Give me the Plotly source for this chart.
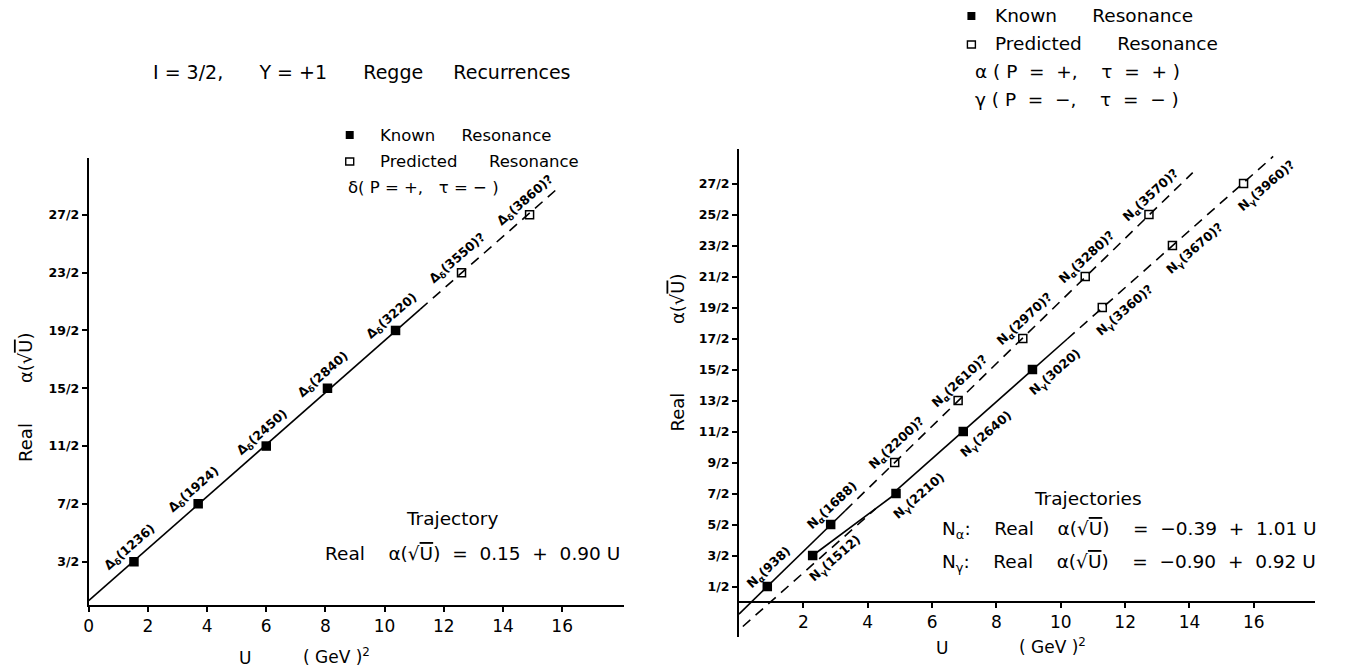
import plotly.graph_objects as go

W, H = 1348, 668
FONT = "DejaVu Sans"

# ---- I = 3/2, Y = +1 trajectory (Delta_delta) ----
delta_mass = ["1236", "1924", "2450", "2840", "3220", "3550", "3860"]
delta_u = [1.53, 3.70, 6.00, 8.07, 10.37, 12.60, 14.90]
delta_j = [1.5, 3.5, 5.5, 7.5, 9.5, 11.5, 13.5]
delta_known = [True, True, True, True, True, False, False]
delta_fit = (0.15, 0.90)

# ---- Nucleon trajectories: N_alpha and N_gamma ----
na_mass = ["938", "1688", "2200", "2610", "2970", "3280", "3570"]
na_u = [0.88, 2.85, 4.84, 6.81, 8.82, 10.76, 12.74]
na_j = [0.5, 2.5, 4.5, 6.5, 8.5, 10.5, 12.5]
na_known = [True, True, False, False, False, False, False]
na_fit = (-0.39, 1.01)

ng_mass = ["1512", "2210", "2640", "3020", "3360", "3670", "3960"]
ng_u = [2.29, 4.88, 6.97, 9.12, 11.29, 13.47, 15.68]
ng_j = [1.5, 3.5, 5.5, 7.5, 9.5, 11.5, 13.5]
ng_known = [True, True, True, True, False, False, False]
ng_fit = (-0.90, 0.92)

# ---- axis ticks ----
left_xticks = [0, 2, 4, 6, 8, 10, 12, 14, 16]
left_yticks = [1.5, 3.5, 5.5, 7.5, 9.5, 11.5, 13.5]
left_ylabels = ["3/2", "7/2", "11/2", "15/2", "19/2", "23/2", "27/2"]
right_xticks = [2, 4, 6, 8, 10, 12, 14, 16]
right_yticks = [0.5, 1.5, 2.5, 3.5, 4.5, 5.5, 6.5, 7.5, 8.5, 9.5, 10.5, 11.5, 12.5, 13.5]
right_ylabels = ["1/2", "3/2", "5/2", "7/2", "9/2", "11/2", "13/2", "15/2",
                 "17/2", "19/2", "21/2", "23/2", "25/2", "27/2"]

fig = go.Figure()

SOLID = dict(color="black", width=1.6)
DASHED = dict(color="black", width=1.6, dash="10px,7px")


def fit_segment(fit, u0, u1, xa, ya, line):
    a, b = fit
    fig.add_trace(go.Scatter(x=[u0, u1], y=[a + b * u0, a + b * u1], mode="lines",
                             line=line, xaxis=xa, yaxis=ya, showlegend=False,
                             hoverinfo="skip"))


def resonances(u, j, known, xa, ya):
    ku = [x for x, k in zip(u, known) if k]
    kj = [y for y, k in zip(j, known) if k]
    pu = [x for x, k in zip(u, known) if not k]
    pj = [y for y, k in zip(j, known) if not k]
    fig.add_trace(go.Scatter(x=ku, y=kj, mode="markers", xaxis=xa, yaxis=ya,
                             marker=dict(symbol="square", size=9.5, color="black"),
                             showlegend=False))
    fig.add_trace(go.Scatter(x=pu, y=pj, mode="markers", xaxis=xa, yaxis=ya,
                             marker=dict(symbol="square-open", size=8, color="black",
                                         line=dict(width=1.5, color="black")),
                             showlegend=False))


# left panel lines
fit_segment(delta_fit, 0.0, 11.2, "x", "y", SOLID)
fit_segment(delta_fit, 11.2, 15.9, "x", "y", DASHED)
resonances(delta_u, delta_j, delta_known, "x", "y")

# right panel lines
fit_segment(na_fit, 0.0, 3.3, "x2", "y2", SOLID)
fit_segment(na_fit, 3.3, 14.1, "x2", "y2", DASHED)
fit_segment(ng_fit, 0.12, 4.25, "x2", "y2", DASHED)
fig.add_trace(go.Scatter(x=[ng_u[0], ng_u[1]], y=[ng_j[0], ng_j[1]], mode="lines",
                         line=SOLID, xaxis="x2", yaxis="y2", showlegend=False,
                         hoverinfo="skip"))
fit_segment(ng_fit, ng_u[1], 10.2, "x2", "y2", SOLID)
fit_segment(ng_fit, 10.2, 16.6, "x2", "y2", DASHED)
resonances(na_u, na_j, na_known, "x2", "y2")
resonances(ng_u, ng_j, ng_known, "x2", "y2")

annotations = []


def point_labels(u, j, known, masses, name, xa, ya, dx, dy, angle):
    for x, y, k, m in zip(u, j, known, masses):
        annotations.append(dict(
            x=x, y=y, xref=xa, yref=ya, showarrow=False,
            text=f"{name}({m}){'' if k else '?'}", textangle=angle,
            xshift=dx, yshift=dy,
            font=dict(family=FONT, size=12.5, color="black", weight="bold")))


point_labels(delta_u, delta_j, delta_known, delta_mass, "Δ<sub>δ</sub>", "x", "y", -4, 14, -41)
point_labels(na_u, na_j, na_known, na_mass, "N<sub>α</sub>", "x2", "y2", 2, 19, -43)
point_labels(ng_u, ng_j, ng_known, ng_mass, "N<sub>γ</sub>", "x2", "y2", 23, -3, -41)


def txt(x, y, text, size=17, xanchor="left", angle=0, weight="normal"):
    annotations.append(dict(
        x=x / W, y=1 - y / H, xref="paper", yref="paper", showarrow=False,
        text=text, xanchor=xanchor, yanchor="middle", textangle=angle,
        font=dict(family=FONT, size=size, color="black", weight=weight)))


SQRTU = "α(√<span style='text-decoration:overline'>U</span>)"

# left panel texts
txt(358, 72, "I = 3/2,      Y = +1      Regge     Recurrences", 19, "center")
txt(374, 135, "Known     Resonance", 16.5)
txt(374, 161, "Predicted      Resonance", 16.5)
txt(342, 187, "δ( P = +,   τ = − )", 16.5)
txt(449, 518, "Trajectory", 18.5, "center")
txt(619, 553, f"Real    {SQRTU}  =  0.15  +  0.90 U", 18.5, "right")
txt(241, 658, "U", 17, "center")
txt(333, 656, "( GeV )<sup>2</sup>", 17, "center")
txt(20, 397, f"Real       {SQRTU}", 18, "center", -90)

# right panel texts
txt(992, 16, "Known      Resonance", 18.5)
txt(992, 44, "Predicted      Resonance", 18.5)
txt(972, 72, "α ( P  =  +,    τ  =  + )", 18.5)
txt(972, 100, "γ ( P  =  −,    τ  =  − )", 18.5)
txt(1087, 498, "Trajectories", 18.5, "center")
txt(938, 530, f"N<sub>α</sub>:    Real    {SQRTU}    =  −0.39  +  1.01 U", 18.5)
txt(938, 563, f"N<sub>γ</sub>:    Real    {SQRTU}    =  −0.90  +  0.92 U", 18.5)
txt(940, 648, "U", 17, "center")
txt(1051, 646, "( GeV )<sup>2</sup>", 17, "center")
txt(675, 352, f"Real            {SQRTU}", 18, "center", -90)

# legend squares
shapes = [
    dict(type="rect", xref="paper", yref="paper", x0=342 / W, x1=350 / W,
         y0=1 - 139 / H, y1=1 - 131 / H, fillcolor="black", line=dict(width=0)),
    dict(type="rect", xref="paper", yref="paper", x0=342 / W, x1=350 / W,
         y0=1 - 165 / H, y1=1 - 158 / H, fillcolor="white",
         line=dict(width=1.4, color="black")),
    dict(type="rect", xref="paper", yref="paper", x0=966 / W, x1=974 / W,
         y0=1 - 20 / H, y1=1 - 12 / H, fillcolor="black", line=dict(width=0)),
    dict(type="rect", xref="paper", yref="paper", x0=966 / W, x1=974 / W,
         y0=1 - 48 / H, y1=1 - 41 / H, fillcolor="white",
         line=dict(width=1.4, color="black")),
]

AX = dict(showline=True, linewidth=2, linecolor="black", showgrid=False, zeroline=False,
          ticks="outside", tickcolor="black", tickwidth=1.5, fixedrange=True)

# pixel geometry of the two frames
LX0, LXS, LXMAX = 84, 29.7, 18.1
LY0, LYS, LYMAX = 605, 28.9, 15.47
RX0, RXS, RXMAX = 736.7, 32.3, 17.9
RY0, RYS, RYMIN, RYMAX = 602, 31.0, -1.13, 14.6

fig.update_layout(
    width=W, height=H, margin=dict(l=0, r=0, t=0, b=0),
    paper_bgcolor="white", plot_bgcolor="rgba(0,0,0,0)",
    showlegend=False,
    xaxis=dict(AX, domain=[LX0 / W, (LX0 + LXMAX * LXS) / W], range=[0, LXMAX],
               anchor="y", tickvals=left_xticks, ticklen=5,
               tickfont=dict(family=FONT, size=17, color="black")),
    yaxis=dict(AX, domain=[1 - LY0 / H, 1 - (LY0 - LYMAX * LYS) / H], range=[0, LYMAX],
               anchor="x", tickvals=left_yticks, ticktext=left_ylabels, ticklen=5,
               tickfont=dict(family=FONT, size=12.5, color="black", weight="bold")),
    xaxis2=dict(AX, domain=[RX0 / W, (RX0 + RXMAX * RXS) / W], range=[0, RXMAX],
                anchor="free", position=1 - RY0 / H, tickvals=right_xticks, ticklen=5,
                tickfont=dict(family=FONT, size=17, color="black")),
    yaxis2=dict(AX, domain=[1 - (RY0 - RYMIN * RYS) / H, 1 - (RY0 - RYMAX * RYS) / H],
                range=[RYMIN, RYMAX], anchor="x2", tickvals=right_yticks,
                ticktext=right_ylabels, ticklen=5,
                tickfont=dict(family=FONT, size=12.5, color="black", weight="bold")),
    annotations=annotations,
    shapes=shapes,
)

fig.write_html("out.html")
